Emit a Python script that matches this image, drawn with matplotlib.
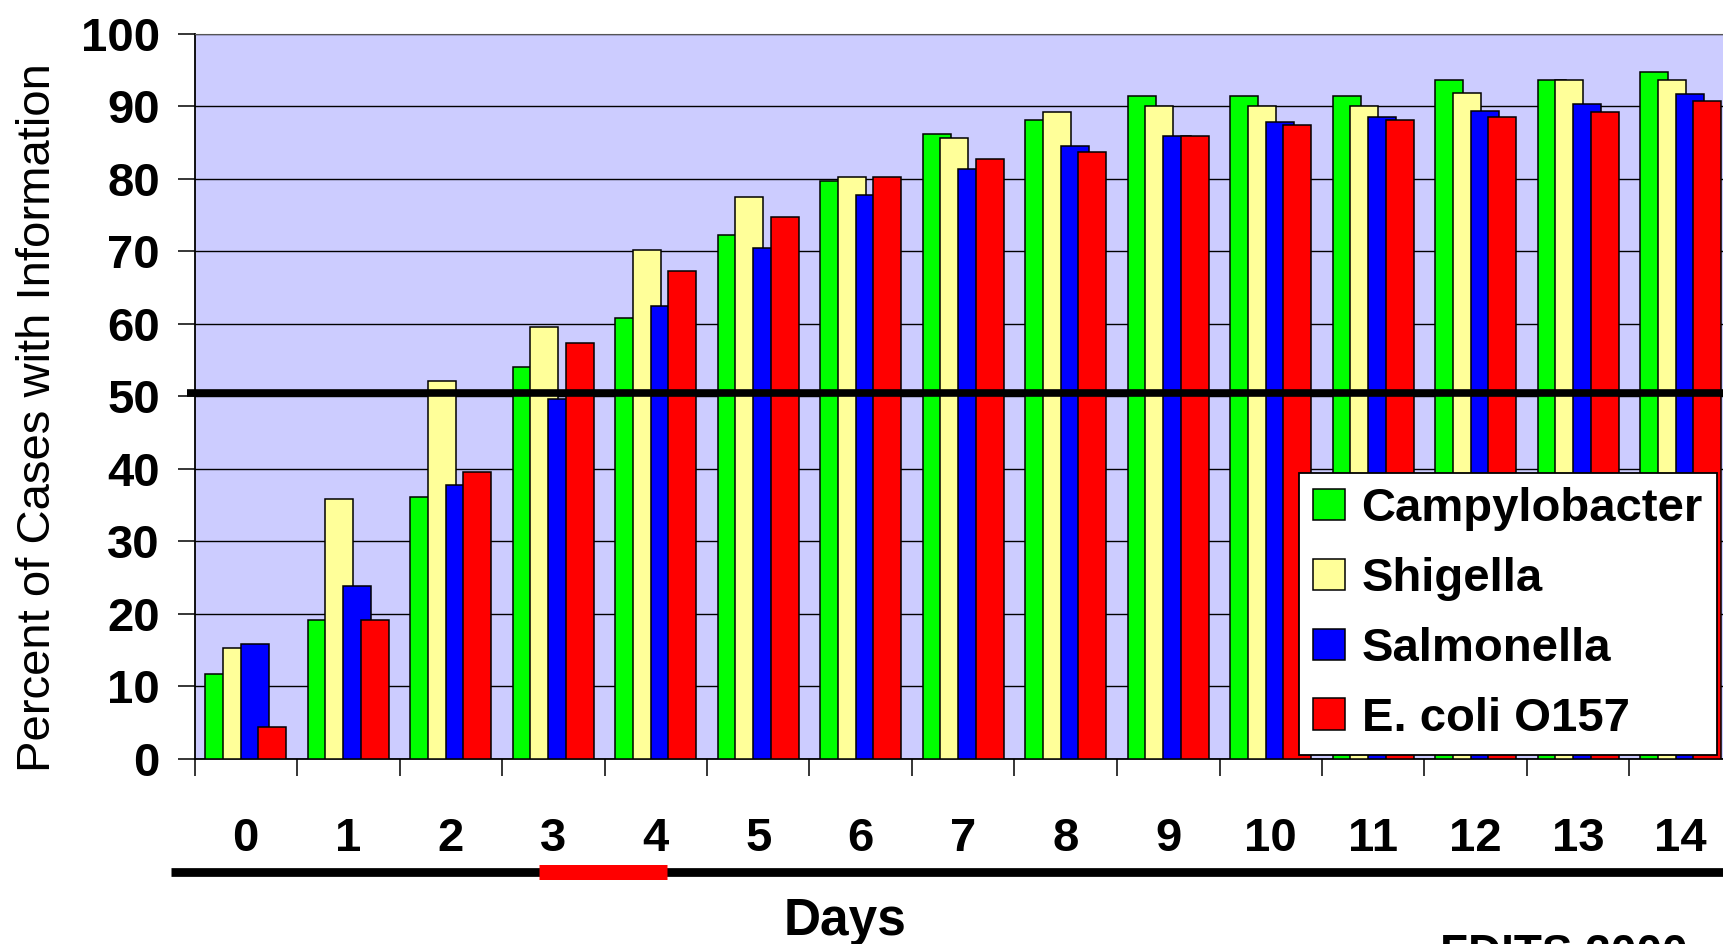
# Percent of cases with information, by days, for four pathogens
import numpy as np
import matplotlib.pyplot as plt
import matplotlib.transforms as mtransforms
from matplotlib.lines import Line2D

plt.rcParams['font.family'] = ['Liberation Sans', 'DejaVu Sans']

# Data
days = [0, 1, 2, 3, 4, 5, 6, 7, 8, 9, 10, 11, 12, 13, 14]
campylobacter = [11.7, 19.1, 36.1, 54.0, 60.8, 72.2, 79.7, 86.2, 88.1, 91.4, 91.4, 91.4, 93.6, 93.6, 94.7]
shigella = [15.2, 35.8, 52.1, 59.6, 70.2, 77.5, 80.3, 85.6, 89.2, 90.0, 90.0, 90.0, 91.9, 93.6, 93.6]
salmonella = [15.8, 23.8, 37.7, 49.6, 62.4, 70.5, 77.8, 81.3, 84.5, 85.9, 87.8, 88.6, 89.4, 90.3, 91.7]
ecoli = [4.3, 19.1, 39.6, 57.4, 67.3, 74.7, 80.3, 82.7, 83.7, 85.9, 87.5, 88.1, 88.6, 89.2, 90.8]

series_names = ["Campylobacter", "Shigella", "Salmonella", "E. coli O157"]
series_colors = ["#00FF00", "#FFFF99", "#0000FF", "#FF0000"]
reference_level = 50.5
highlight_days = (3, 4)

W, H = 1723, 944
fig = plt.figure(figsize=(W / 100, H / 100), dpi=100)

# axes run slightly past the right edge, as in the original slide
ax = fig.add_axes([194.5 / W, 1 - 758.5 / H, 1537.5 / W, 724.5 / H])
ax.set_facecolor("#CCCCFF")

x = np.arange(len(days))
step = 0.171
width = 0.273
all_series = [campylobacter, shigella, salmonella, ecoli]
for i, (vals, name, col) in enumerate(zip(all_series, series_names, series_colors)):
    ax.bar(x + (i - 1.5) * step, vals, width, color=col, edgecolor="black",
           linewidth=1.1, label=name, zorder=3 + i)

ax.set_xlim(-0.5, 14.5)
ax.set_ylim(0, 100)
ax.set_yticks(range(0, 101, 10))
ax.yaxis.grid(True, color="black", linewidth=1.0, zorder=1)
ax.set_axisbelow(True)

# thick reference line at ~50%
ax.plot([-0.57, 15], [reference_level, reference_level], color="black", lw=5.5,
        solid_capstyle="butt", clip_on=False, zorder=10)

# x ticks: marks between groups, labels at centers
ax.set_xticks(x)
ax.set_xticklabels([str(d) for d in days], fontsize=34, fontweight="bold")
ax.set_xticks(np.arange(-0.5, 15, 1), minor=True)
ax.tick_params(axis="x", which="major", length=0, pad=42)
ax.tick_params(axis="x", which="minor", length=12, width=1.1, direction="out")
ax.tick_params(axis="y", length=12, width=1.1, direction="out", pad=13)
for lab in ax.get_yticklabels():
    lab.set_fontsize(34)
    lab.set_fontweight("bold")

for side in ["left", "bottom"]:
    ax.spines[side].set_linewidth(1.3)
ax.spines["top"].set_color("#555555")
ax.spines["right"].set_visible(False)

leg = ax.legend(loc="lower right", bbox_to_anchor=(1717 / W, 1 - 755 / H),
                bbox_transform=fig.transFigure,
                prop={"weight": "bold", "size": 34}, frameon=True, fancybox=False,
                edgecolor="black", framealpha=1, borderpad=0.3,
                labelspacing=0.55, handlelength=0.68, handleheight=0.65,
                handletextpad=0.35, borderaxespad=0)
leg.get_frame().set_linewidth(1.3)
leg.set_zorder(20)

# lines beneath the day labels
blend = mtransforms.blended_transform_factory(ax.transData, fig.transFigure)
line_y = 1 - 872 / H
fig.add_artist(Line2D([-0.73, 15], [line_y, line_y], transform=blend, color="black",
                      lw=6.3, solid_capstyle="butt"))
fig.add_artist(Line2D([highlight_days[0] - 0.14, highlight_days[1] + 0.11], [line_y, line_y],
                      transform=blend, color="#FF0000", lw=10.8, solid_capstyle="butt"))

fig.text(38 / W, 1 - 418 / H, "Percent of Cases with Information", rotation=90,
         ha="center", va="center", fontsize=34)
fig.text(845 / W, 1 - 935 / H, "Days", ha="center", va="baseline",
         fontsize=37, fontweight="bold")
fig.text(1440 / W, 1 - 933 / H, "FDITS 2000", ha="left", va="top",
         fontsize=33, fontweight="bold")

fig.savefig("out.png", dpi=100)
